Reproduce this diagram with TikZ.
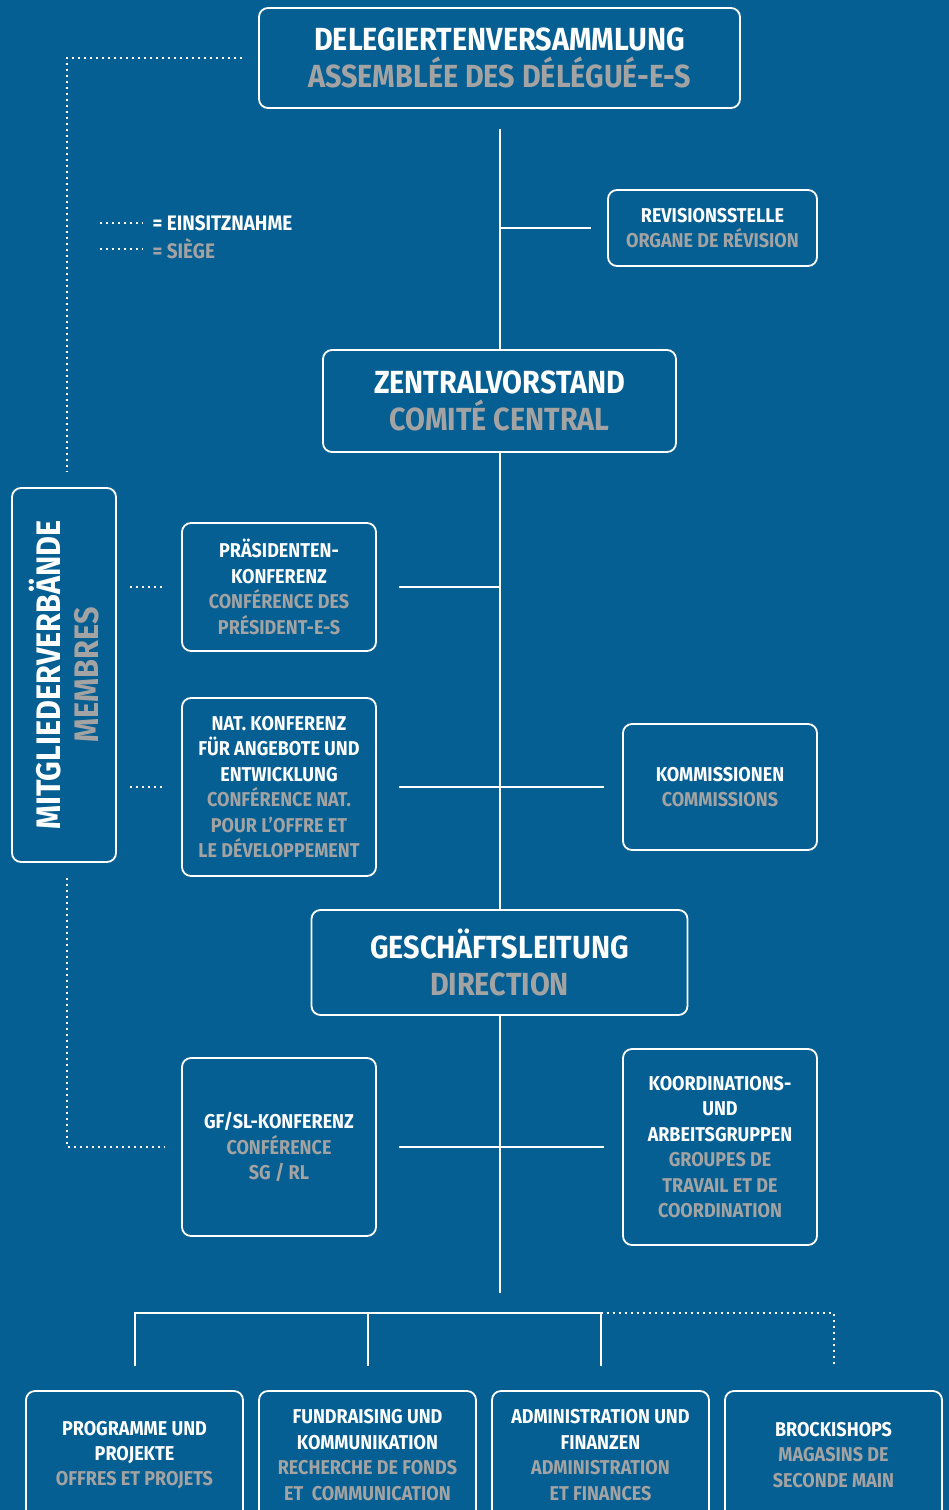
\documentclass[tikz,border=0pt]{standalone}
\usepackage{fontspec}
\setmainfont{Fira Sans}[FakeStretch=0.9]
\usepackage{xcolor}
\usetikzlibrary{calc}

\definecolor{orgblue}{RGB}{5,95,146}
\definecolor{frgrey}{RGB}{163,163,163}
\newcommand{\frtxt}[1]{\textcolor{frgrey}{#1}}

\tikzset{
  box/.style={draw=white, line width=1.8pt, rounded corners=9pt, align=center, text=white, inner sep=0pt},
  bigtext/.style={font=\fontsize{32}{37}\selectfont\bfseries},
  smalltext/.style={font=\fontsize{20}{25.4}\selectfont\bfseries},
  link/.style={white, line width=2pt},
  seat/.style={white, line width=2pt, dash pattern=on 2pt off 4pt},
}

\begin{document}
\begin{tikzpicture}[x=1pt,y=-1pt]

\fill[orgblue] (0,0) rectangle (949,1510);
\clip (0,0) rectangle (949,1510);

% main line of boxes
\node[box, bigtext, minimum width=481, minimum height=100] (dv) at (499.5,58)
  {DELEGIERTENVERSAMMLUNG\\\frtxt{ASSEMBLÉE DES DÉLÉGUÉ-E-S}};
\node[box, bigtext, minimum width=353, minimum height=102] (zv) at (499.5,401)
  {ZENTRALVORSTAND\\\frtxt{COMITÉ CENTRAL}};
\node[box, bigtext, minimum width=376, minimum height=105] (gl) at (499.5,962.5)
  {GESCHÄFTSLEITUNG\\\frtxt{DIRECTION}};

% side boxes
\node[box, smalltext, minimum width=209, minimum height=76] (rev) at (712.5,228)
  {REVISIONSSTELLE\\\frtxt{ORGANE DE RÉVISION}};
\node[box, smalltext, minimum width=194, minimum height=128] (pk) at (279,587)
  {PRÄSIDENTEN-\\KONFERENZ\\\frtxt{CONFÉRENCE DES}\\\frtxt{PRÉSIDENT-E-S}};
\node[box, smalltext, minimum width=194, minimum height=178] (nk) at (279,787)
  {NAT. KONFERENZ\\FÜR ANGEBOTE UND\\ENTWICKLUNG\\\frtxt{CONFÉRENCE NAT.}\\\frtxt{POUR L’OFFRE ET}\\\frtxt{LE DÉVELOPPEMENT}};
\node[box, smalltext, minimum width=194, minimum height=126] (kom) at (720,787)
  {KOMMISSIONEN\\\frtxt{COMMISSIONS}};
\node[box, smalltext, minimum width=194, minimum height=178] (gf) at (279,1147)
  {GF/SL-KONFERENZ\\\frtxt{CONFÉRENCE}\\\frtxt{SG / RL}};
\node[box, smalltext, minimum width=194, minimum height=196] (kg) at (720,1147)
  {KOORDINATIONS-\\UND\\ARBEITSGRUPPEN\\\frtxt{GROUPES DE}\\\frtxt{TRAVAIL ET DE}\\\frtxt{COORDINATION}};

% members
\node[box, minimum width=104, minimum height=374] (mv) at (64,675) {};
\node[text=white, align=center, rotate=90, font=\fontsize{34}{38}\selectfont\bfseries] (mvtext) at (mv.center)
  {MITGLIEDERVERBÄNDE\\\frtxt{MEMBRES}};

% departments
\node[box, smalltext, minimum width=217, minimum height=128] (b1) at (134.5,1455)
  {PROGRAMME UND\\PROJEKTE\\\frtxt{OFFRES ET PROJETS}};
\node[box, smalltext, minimum width=217, minimum height=128] (b2) at (367.5,1455)
  {FUNDRAISING UND\\KOMMUNIKATION\\\frtxt{RECHERCHE DE FONDS}\\\frtxt{ET\ \ COMMUNICATION}};
\node[box, smalltext, minimum width=217, minimum height=128] (b3) at (600.5,1455)
  {ADMINISTRATION UND\\FINANZEN\\\frtxt{ADMINISTRATION}\\\frtxt{ET FINANCES}};
\node[box, smalltext, minimum width=217, minimum height=128] (b4) at (833.5,1455)
  {BROCKISHOPS\\\frtxt{MAGASINS DE}\\\frtxt{SECONDE MAIN}};

% legend
\node[smalltext, font=\fontsize{21}{25}\selectfont\bfseries, text=white, anchor=west] (leg1) at (149,223) {= EINSITZNAHME};
\node[smalltext, font=\fontsize{21}{25}\selectfont\bfseries, text=frgrey, anchor=west] (leg2) at (149,249) {= SIÈGE};
\draw[seat] ([xshift=-49pt]leg1.west) -- ([xshift=-6pt]leg1.west);
\draw[seat] ([xshift=-49pt]leg2.west) -- ([xshift=-6pt]leg2.west);

\coordinate (mainend) at (499.5,1293);
\coordinate (bus) at (499.5,1313);

% solid links
\draw[link] ([yshift=-20pt]dv.south) -- (zv.north);
\draw[link] (zv.south) -- (gl.north);
\draw[link] (gl.south) -- (mainend);
\draw[link] (zv.north |- rev.west) -- ([xshift=-16pt]rev.west);
\draw[link] ([xshift=22pt]pk.east) -- (zv.south |- pk.east);
\draw[link] ([xshift=22pt]nk.east) -- ([xshift=-18pt]kom.west);
\draw[link] ([xshift=22pt]gf.east) -- ([xshift=-18pt]kg.west);
\draw[link] ([yshift=24pt]b1.north) -- (b1 |- bus) -- (b3 |- bus) -- ([yshift=24pt]b3.north);
\draw[link] (b2 |- bus) -- ([yshift=24pt]b2.north);

% dotted links
\draw[seat] ([xshift=-16pt]dv.west) -| ($(mv.north)+(3,-15)$);
\draw[seat] ($(mv.south)+(3,15)$) |- ([xshift=-16pt]gf.west);
\draw[seat] ($(mv.east |- pk.west)+(13,0)$) -- ([xshift=-16pt]pk.west);
\draw[seat] ($(mv.east |- nk.west)+(13,0)$) -- ([xshift=-16pt]nk.west);
\draw[seat] (b3 |- bus) -- (b4 |- bus) -- ([yshift=23pt]b4.north);

\end{tikzpicture}
\end{document}
